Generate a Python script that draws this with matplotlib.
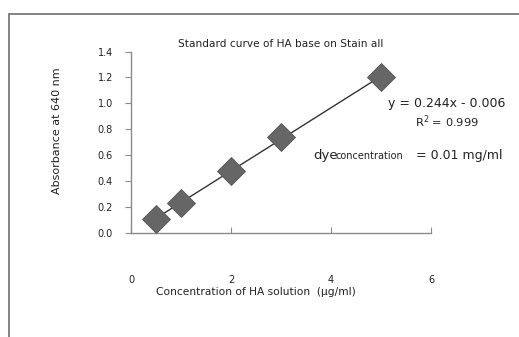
import numpy as np
import matplotlib
matplotlib.use("Agg")
import matplotlib.pyplot as plt
import matplotlib.patches as mpatches

# 数据
conc = [0.5, 1.0, 2.0, 3.0, 5.0]
absorb = [0.11, 0.23, 0.48, 0.74, 1.20]
x_ticks = [0, 2, 4, 6]
y_ticks = [0.0, 0.2, 0.4, 0.6, 0.8, 1.0, 1.2, 1.4]

W, H = 519, 337
fig = plt.figure(figsize=(W / 100, H / 100), dpi=100)
fig.set_facecolor("white")

# 外框 (右下超出画面)
fig.patches.append(mpatches.Rectangle(
    (9 / W, -0.05), 1.2, 1 - 14 / H + 0.05, transform=fig.transFigure,
    fill=False, edgecolor="#7a7a7a", linewidth=1.3, zorder=0))

ax = fig.add_axes([131 / W, 1 - 233 / H, 300 / W, (233 - 51.5) / H])

# 趋势线
k, b = np.polyfit(conc, absorb, 1)
xs = np.array([min(conc), max(conc)])
ax.plot(xs, k * xs + b, color="#333333", linewidth=1.0, zorder=2)
ax.plot(conc, absorb, linestyle="none", marker="D", markersize=14,
        markerfacecolor="#666666", markeredgecolor="#555555",
        markeredgewidth=0.6, zorder=3)

ax.set_xlim(0, 6)
ax.set_ylim(0, 1.4)
ax.set_xticks(x_ticks)
ax.set_yticks(y_ticks)
ax.set_xticklabels([f"{v:d}" for v in x_ticks])
ax.set_yticklabels([f"{v:.1f}" for v in y_ticks])

for s in ["top", "right"]:
    ax.spines[s].set_visible(False)
for s in ["left", "bottom"]:
    ax.spines[s].set_color("#8a8a8a")
    ax.spines[s].set_linewidth(1.0)

ax.tick_params(axis="x", direction="in", length=4, pad=30, colors="#8a8a8a",
               labelcolor="#222222", labelsize=7)
ax.tick_params(axis="y", direction="out", length=4, pad=9, colors="#8a8a8a",
               labelcolor="#222222", labelsize=7)

ax.set_title("Standard curve of HA base on Stain all", fontsize=7.6,
             color="#222222", pad=3)
fig.text(256 / W, 1 - 292 / H, "Concentration of HA solution  (μg/ml)",
         fontsize=7.7, color="#222222", ha="center", va="center")
fig.text(57 / W, 1 - 131 / H, "Absorbance at 640 nm", fontsize=8,
         color="#222222", ha="center", va="center", rotation=90)

# 公式标注
fig.text(447 / W, 1 - 103 / H, "y = 0.244x - 0.006", fontsize=9,
         color="#222222", ha="center", va="center")
fig.text(447 / W, 1 - 122 / H, "R$^2$ = 0.999", fontsize=8.2,
         color="#222222", ha="center", va="center")
fig.text(313 / W, 1 - 155 / H, "dye", fontsize=9.5, color="#222222",
         ha="left", va="center")
fig.text(335 / W, 1 - 156 / H, "concentration", fontsize=7, color="#222222",
         ha="left", va="center")
fig.text(503 / W, 1 - 155 / H, "= 0.01 mg/ml", fontsize=9, color="#222222",
         ha="right", va="center")

fig.savefig("out.png", dpi=100, facecolor=fig.get_facecolor())
plt.close(fig)
